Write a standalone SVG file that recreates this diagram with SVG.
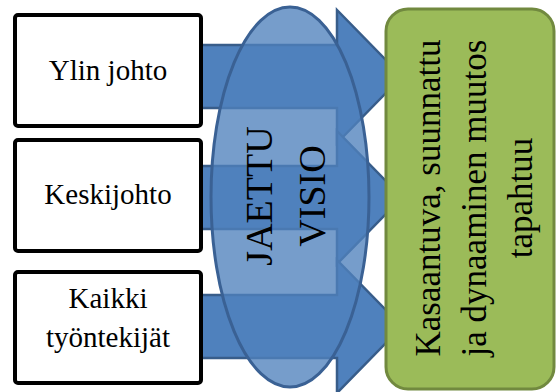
<svg xmlns="http://www.w3.org/2000/svg" width="557" height="392" viewBox="0 0 557 392">
<style>
.arrow{fill:#4F81BD;stroke:#385D8A;stroke-width:2.5;stroke-linejoin:miter}
.box{fill:#FFFFFF;stroke:#000000;stroke-width:4}
text{fill:#000000;text-anchor:middle}
</style>
<rect width="557" height="392" fill="#FFFFFF"/>
<g id="connectors">
<path class="arrow" d="M190,45 H337 V10 L402,76.5 L337,143 V108 H190 Z"/>
<path class="arrow" d="M190,166 H337 V131 L402,197.5 L337,264 V229 H190 Z"/>
<path class="arrow" d="M190,295 H337 V260 L402,326.5 L337,393 V358 H190 Z"/>
</g>
<g id="vision">
<ellipse cx="290" cy="197" rx="79" ry="190" fill="#4F81BD" fill-opacity="0.78" stroke="#3A6194" stroke-width="3"/>
<text font-family="Liberation Serif, serif" font-size="38" fill="#151a22" transform="translate(272,196) rotate(-90)">JAETTU</text>
<text font-family="Liberation Serif, serif" font-size="38" fill="#151a22" transform="translate(325,196) rotate(-90)">VISIO</text>
</g>
<g id="ylin">
<rect class="box" x="15" y="15" width="186" height="111" rx="3"/>
<text font-family="Liberation Serif, serif" font-size="29" x="108" y="80">Ylin johto</text>
</g>
<g id="keski">
<rect class="box" x="15" y="140" width="186" height="111" rx="3"/>
<text font-family="Liberation Serif, serif" font-size="29" x="108" y="204">Keskijohto</text>
</g>
<g id="kaikki">
<rect class="box" x="15" y="272" width="186" height="111" rx="3"/>
<text font-family="Liberation Serif, serif" font-size="29" x="108" y="308">Kaikki</text>
<text font-family="Liberation Serif, serif" font-size="29" x="108" y="347">työntekijät</text>
</g>
<g id="result">
<rect x="386" y="9" width="168" height="380" rx="22" fill="#9BBB59" stroke="#71893F" stroke-width="3"/>
<text font-family="Liberation Serif, serif" font-size="35" transform="translate(440,198) rotate(-90)">Kasaantuva, suunnattu</text>
<text font-family="Liberation Serif, serif" font-size="35" transform="translate(486,198) rotate(-90)">ja dynaaminen muutos</text>
<text font-family="Liberation Serif, serif" font-size="35" transform="translate(532,198) rotate(-90)">tapahtuu</text>
</g>
</svg>
